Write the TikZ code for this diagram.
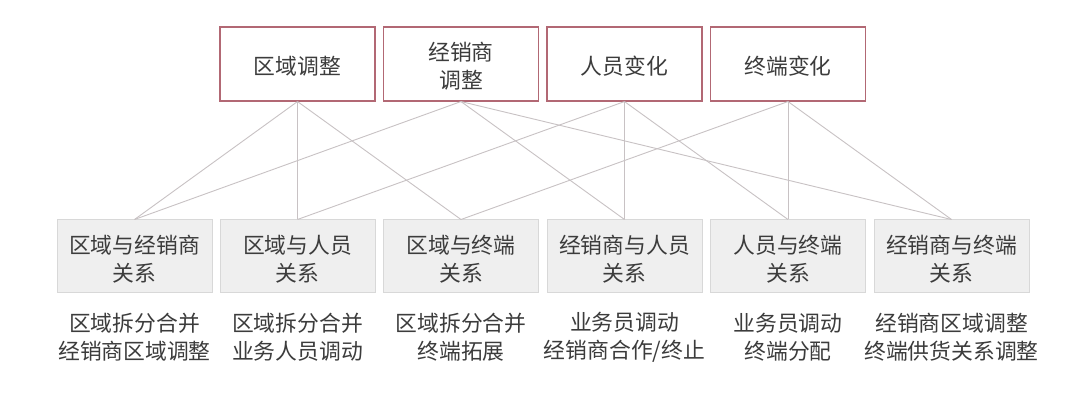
\documentclass[tikz,border=0pt]{standalone}
\usepackage{fontspec}
\setmainfont{Noto Sans CJK SC}
\definecolor{topred}{RGB}{178,104,116}
\definecolor{linkc}{RGB}{200,194,196}
\definecolor{botfill}{RGB}{239,239,239}
\definecolor{botline}{RGB}{216,216,216}
\definecolor{txt}{RGB}{60,60,60}
\begin{document}
\begin{tikzpicture}[x=1pt,y=-1pt,
  lbl/.style={font=\fontsize{21.8}{28}\selectfont, text=txt, align=center, inner sep=0pt},
  inlbl/.style={lbl, yshift=-2.5pt},
  topbox/.style={draw=topred, line width=1.1pt, fill=white, minimum width=155pt, minimum height=74pt, inner sep=0pt},
  botbox/.style={draw=botline, line width=1pt, fill=botfill, minimum width=155pt, minimum height=73pt, inner sep=0pt},
  note/.style={lbl, yshift=-1.5pt},
  link/.style={draw=linkc, line width=0.9pt}]
\useasboundingbox (0,0) rectangle (1080,403);
\fill[white] (0,0) rectangle (1080,403);
% top boxes
\node[topbox, label={[inlbl]center:区域调整}] (t1) at (297.5,64) {};
\node[topbox, label={[inlbl]center:{经销商\\调整}}] (t2) at (461,64) {};
\node[topbox, label={[inlbl]center:人员变化}] (t3) at (624.5,64) {};
\node[topbox, label={[inlbl]center:终端变化}] (t4) at (788,64) {};
% bottom boxes
\node[botbox, label={[inlbl]center:{区域与经销商\\关系}}] (b1) at (134.5,256.5) {};
\node[botbox, label={[inlbl]center:{区域与人员\\关系}}] (b2) at (297.5,256.5) {};
\node[botbox, label={[inlbl]center:{区域与终端\\关系}}] (b3) at (461,256.5) {};
\node[botbox, label={[inlbl]center:{经销商与人员\\关系}}] (b4) at (624.5,256.5) {};
\node[botbox, label={[inlbl]center:{人员与终端\\关系}}] (b5) at (788,256.5) {};
\node[botbox, label={[inlbl]center:{经销商与终端\\关系}}] (b6) at (951.5,256.5) {};
% notes
\node[note] (n1) at (134.5,336) {区域拆分合并\\经销商区域调整};
\node[note] (n2) at (297.5,336) {区域拆分合并\\业务人员调动};
\node[note] (n3) at (461,336) {区域拆分合并\\终端拓展};
\node[note] (n4) at (624.5,336) {业务员调动\\经销商合作/终止};
\node[note] (n5) at (788,336) {业务员调动\\终端分配};
\node[note] (n6) at (951.5,336) {经销商区域调整\\终端供货关系调整};
% links
\draw[link] (t1.south) -- (b1.north);
\draw[link] (t1.south) -- (b2.north);
\draw[link] (t1.south) -- (b3.north);
\draw[link] (t2.south) -- (b1.north);
\draw[link] (t2.south) -- (b4.north);
\draw[link] (t2.south) -- (b6.north);
\draw[link] (t3.south) -- (b2.north);
\draw[link] (t3.south) -- (b4.north);
\draw[link] (t3.south) -- (b5.north);
\draw[link] (t4.south) -- (b3.north);
\draw[link] (t4.south) -- (b5.north);
\draw[link] (t4.south) -- (b6.north);
\end{tikzpicture}
\end{document}
